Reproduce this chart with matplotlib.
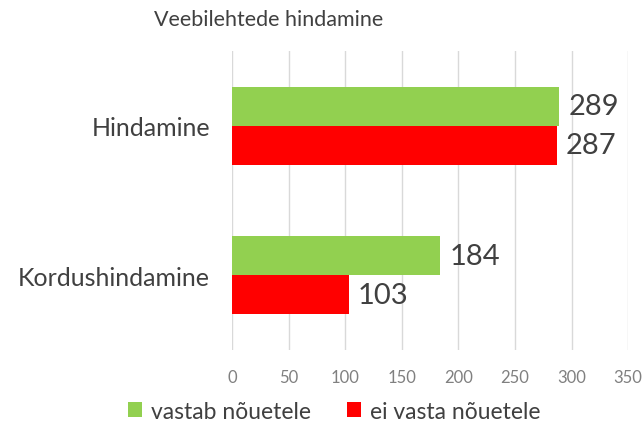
import matplotlib.pyplot as plt
import numpy as np

categories = ['Kordushindamine', 'Hindamine']
vastab = [184, 289]
ei_vasta = [103, 287]
series_names = ['vastab nõuetele', 'ei vasta nõuetele']
xticks = [0, 50, 100, 150, 200, 250, 300, 350]

plt.rcParams['font.family'] = ['Lato', 'DejaVu Sans']

fig = plt.figure(figsize=(6.43, 4.27), dpi=100)
ax = fig.add_axes([0.361, 0.178, 0.616, 0.70])

y = np.arange(len(categories))
h = 0.26
b1 = ax.barh(y + h / 2, vastab, height=h, color='#92D050', label=series_names[0], zorder=2)
b2 = ax.barh(y - h / 2, ei_vasta, height=h, color='#FF0000', label=series_names[1], zorder=2)

for bars in (b1, b2):
    for r in bars:
        ax.text(r.get_width() + 8, r.get_y() + r.get_height() / 2, str(int(r.get_width())),
                va='center', ha='left', fontsize=21, color='#404040')

ax.set_xlim(0, 350)
ax.set_ylim(-0.5, 1.5)
ax.set_xticks(xticks)
ax.set_yticks(y)
ax.set_yticklabels(categories, fontsize=18, color='#404040')
ax.tick_params(axis='x', labelsize=12, colors='#808080', length=0, pad=14)
ax.tick_params(axis='y', length=0, pad=16)
ax.grid(axis='x', color='#D9D9D9', linewidth=1, zorder=0)
for s in ax.spines.values():
    s.set_visible(False)

fig.text(0.418, 0.952, 'Veebilehtede hindamine', ha='center', va='center', fontsize=15.5, color='#404040')

fig.legend(handles=[b1, b2], loc='center', bbox_to_anchor=(0.52, 0.035), ncol=2, frameon=False,
           fontsize=16.5, handlelength=0.6, handleheight=0.6, handletextpad=0.4, columnspacing=1.6,
           labelcolor='#404040')

fig.savefig('out.png', dpi=100)
